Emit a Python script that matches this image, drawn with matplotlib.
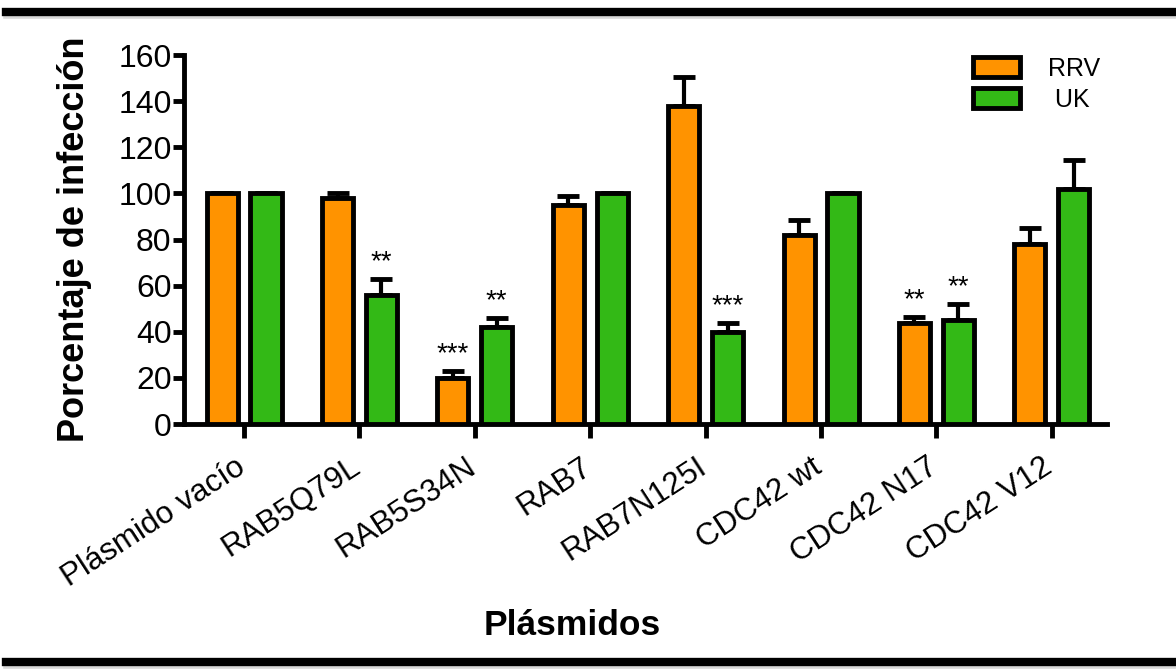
import numpy as np
import matplotlib
matplotlib.use("Agg")
import matplotlib.pyplot as plt
import matplotlib.transforms as mtransforms
from matplotlib.lines import Line2D
from matplotlib.patches import Patch

plt.rcParams['font.family'] = ['Liberation Sans', 'DejaVu Sans']

# %% data
plasmids = ["Plásmido vacío", "RAB5Q79L", "RAB5S34N", "RAB7", "RAB7N125I",
            "CDC42 wt", "CDC42 N17", "CDC42 V12"]
rrv = [100, 98, 20, 95, 138, 82, 44, 78]
rrv_err = [0, 2, 3, 4, 12.5, 6.5, 2.5, 7]
uk = [100, 56, 42, 100, 40, 100, 45, 102]
uk_err = [0, 7, 4, 0, 4, 0, 7, 12.5]
rrv_sig = ["", "", "***", "", "", "", "**", ""]
uk_sig = ["", "**", "**", "", "***", "", "**", ""]

orange = "#FF9300"
green = "#33B916"

# %% plot
fig = plt.figure(figsize=(11.76, 6.72), dpi=100)
ax = fig.add_axes([0.1565, 0.369, 0.785, 0.549])

x = np.arange(len(plasmids))
off = 0.19
w = 0.27
ax.bar(x - off, rrv, w, color=orange, edgecolor="black", linewidth=3.5, zorder=3)
ax.bar(x + off, uk, w, color=green, edgecolor="black", linewidth=3.5, zorder=3)
ax.errorbar(x - off, rrv, yerr=[np.zeros(len(x)), rrv_err], fmt="none",
            ecolor="black", elinewidth=3, capsize=8, capthick=3.5, zorder=2)
ax.errorbar(x + off, uk, yerr=[np.zeros(len(x)), uk_err], fmt="none",
            ecolor="black", elinewidth=3, capsize=8, capthick=3.5, zorder=2)

for i in range(len(x)):
    if rrv_sig[i]:
        ax.text(x[i] - off, rrv[i] + rrv_err[i] + 1.5, rrv_sig[i], ha="center",
                va="bottom", fontsize=20)
    if uk_sig[i]:
        ax.text(x[i] + off, uk[i] + uk_err[i] + 1.5, uk_sig[i], ha="center",
                va="bottom", fontsize=20)

ax.set_xlim(-0.52, 7.48)
ax.set_ylim(0, 160)
ax.set_yticks(np.arange(0, 161, 20))
ax.set_xticks(x)
ax.set_xticklabels(plasmids, rotation=33, ha="right", rotation_mode="anchor")
ax.tick_params(axis="y", labelsize=23, width=3.5, length=8, pad=1)
ax.tick_params(axis="x", labelsize=22.5, width=3.5, length=10, pad=10)
# shift the rotated labels a bit to the left
shift = mtransforms.ScaledTranslation(-10 / 100, 0, fig.dpi_scale_trans)
for lab in ax.get_xticklabels():
    lab.set_transform(lab.get_transform() + shift)
for s in ["top", "right"]:
    ax.spines[s].set_visible(False)
for s in ["left", "bottom"]:
    ax.spines[s].set_linewidth(3.5)

ax.set_ylabel("Porcentaje de infección", fontsize=26, fontweight="bold", labelpad=19)
fig.text(0.487, 0.055, "Plásmidos", fontsize=25.5, fontweight="bold", ha="center")

handles = [Patch(facecolor=orange, edgecolor="black", linewidth=3.5),
           Patch(facecolor=green, edgecolor="black", linewidth=3.5)]
ax.legend(handles, ["RRV", " UK"], loc="upper left", bbox_to_anchor=(0.841, 1.03),
          frameon=False, fontsize=18, handlelength=1.9, handleheight=0.85,
          handletextpad=1.1, labelspacing=0.3, borderpad=0)

# top and bottom rules of the figure
for yy in [0.982, 0.015]:
    fig.add_artist(Line2D([0.005, 1.0], [yy - 0.006, yy - 0.006], color="#d8d8d8",
                          linewidth=4, transform=fig.transFigure))
    fig.add_artist(Line2D([0.005, 1.0], [yy, yy], color="black", linewidth=6,
                          transform=fig.transFigure))

fig.savefig("out.png", dpi=100)
